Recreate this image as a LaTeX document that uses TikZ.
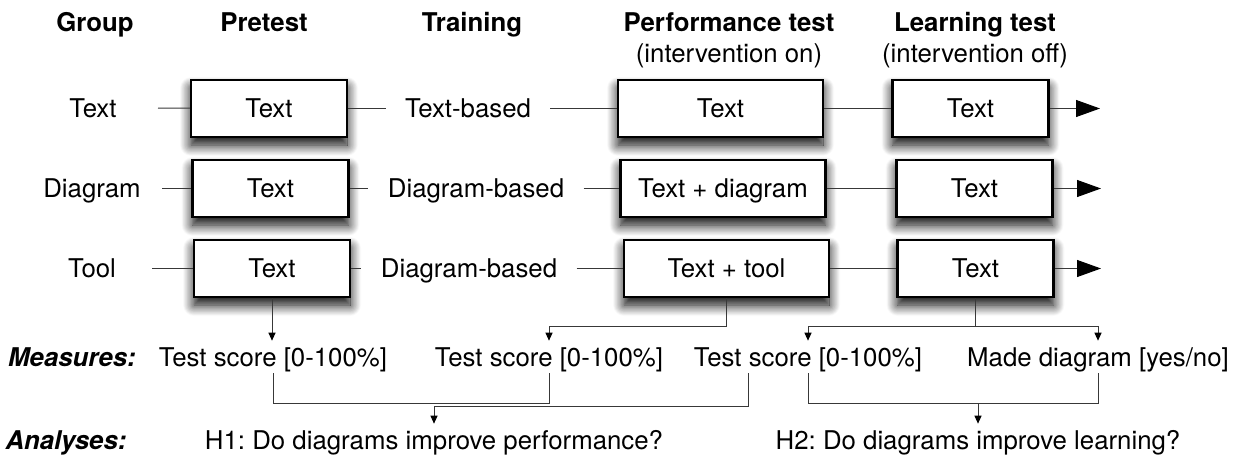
\documentclass[tikz,border=0pt]{standalone}
\usepackage{fontspec}
\setmainfont{TeX Gyre Heros}
\usetikzlibrary{arrows.meta,shadows.blur,calc}

\begin{document}
\frenchspacing
\begin{tikzpicture}[x=0.5pt,y=-0.5pt,
  font=\fontsize{12.9}{15}\selectfont,
  head/.style={anchor=base, inner sep=0pt, font=\fontsize{12.9}{15}\selectfont\bfseries},
  subhead/.style={anchor=base, inner sep=0pt},
  plain/.style={inner sep=0pt, text height=9.3pt, text depth=0pt},
  stage/.style={draw=black, line width=1.1pt, fill=white, minimum height=28.5pt,
    inner sep=0pt, text height=9.3pt, text depth=0pt,
    blur shadow={shadow xshift=0pt, shadow yshift=-4pt, shadow blur radius=5.5pt,
      shadow opacity=100, shadow blur steps=14}},
  narrow/.style={stage, minimum width=78pt},
  wide/.style={stage, minimum width=102.5pt},
  train/.style={fill=white, inner xsep=9.5pt, minimum height=17pt, text height=9.3pt, text depth=0pt},
  measure/.style={inner xsep=0pt, inner ysep=3.3pt, text height=9.3pt, text depth=0pt},
  conn/.style={draw=black!78, line width=0.5pt},
  flow/.style={conn, -{Triangle[length=12pt,width=8.5pt,color=black]}},
  feed/.style={conn, -{Triangle[length=4pt,width=3.5pt,color=black]}},
]
\useasboundingbox (0,0) rectangle (1237,455);

% column headings
\node[head] (hgroup) at (95,32)  {Group};
\node[head] (hpre)   at (264,32) {Pretest};
\node[head] (htrain) at (472,32) {Training};
\node[head] (hperf)  at (729,32) {Performance test};
\node[subhead] (hperfsub) at (729,62) {(intervention on)};
\node[head] (hlearn) at (975,32) {Learning test};
\node[subhead] (hlearnsub) at (975,62) {(intervention off)};

% group labels
\node[plain] (g1) at (93,108)   {Text};
\node[plain] (g2) at (92,188.5) {Diagram};
\node[plain] (g3) at (92,268.5) {Tool};
\coordinate (s1) at (158,108);
\coordinate (s2) at (162,188.5);
\coordinate (s3) at (152,268.5);

% stage boxes
\node[narrow] (pre1)   at (269,108.5)   {Text};
\node[narrow] (pre2)   at (270.5,188.5) {Text};
\node[narrow] (pre3)   at (272,268.5)   {Text};
\node[wide]   (perf1)  at (720.5,108.5) {Text};
\node[wide]   (perf2)  at (723,188.5)   {Text + diagram};
\node[wide]   (perf3)  at (726.5,268.5) {Text + tool};
\node[narrow] (learn1) at (970.5,108.5) {Text};
\node[narrow] (learn2) at (974.5,188.5) {Text};
\node[narrow] (learn3) at (975.5,268.5) {Text};

% training conditions
\node[train] (tr1) at (468,108.5) {Text-based};
\node[train] (tr2) at (476,188.5) {Diagram-based};
\node[train] (tr3) at (469,268.5) {Diagram-based};

\coordinate (e1) at (1100,108.5);
\coordinate (e2) at (1101,188.5);
\coordinate (e3) at (1101,268.5);

% rows
\foreach \r in {1,2,3}{
  \draw[conn] (s\r) -- (pre\r);
  \draw[conn] (pre\r) -- (tr\r);
  \draw[conn] (tr\r) -- (perf\r);
  \draw[conn] (perf\r) -- (learn\r);
  \draw[flow] (learn\r) -- (e\r);
}

% measures
\node[plain] (mlabel) at (72,357) {\bfseries\itshape Measures:};
\node[measure] (m1) at (273,357)  {Test score [0-100\%]};
\node[measure] (m2) at (549,357)  {Test score [0-100\%]};
\node[measure] (m3) at (808,357)  {Test score [0-100\%]};
\node[measure] (m4) at (1098,357) {Made diagram [yes/no]};

\draw[feed] (pre3.south) -- (pre3.south |- m1.north);
\draw[feed] (perf3.south) -- ++(0,28) -| (m2.north);
\draw[feed] (learn3.south) -- ++(0,28) -| (m3.north);
\draw[feed] (learn3.south) ++(0,28) -| (m4.north);

% analyses
\node[plain] (alabel) at (66,440) {\bfseries\itshape Analyses:};
\node[measure] (h1) at (434,440) {H1: Do diagrams improve performance?};
\node[measure] (h2) at (978,440) {H2: Do diagrams improve learning?};

\draw[conn] (m1.south) -- ++(0,30) -| (m2.south);
\draw[feed] ($(m3.south)+(-60,0)$) -- ++(0,33) -| (h1.north);
\draw[conn] (m3.south) -- ++(0,30) coordinate (b2) -| (m4.south);
\draw[feed] (b2 -| h2.north) -- (h2.north);
\end{tikzpicture}
\end{document}
